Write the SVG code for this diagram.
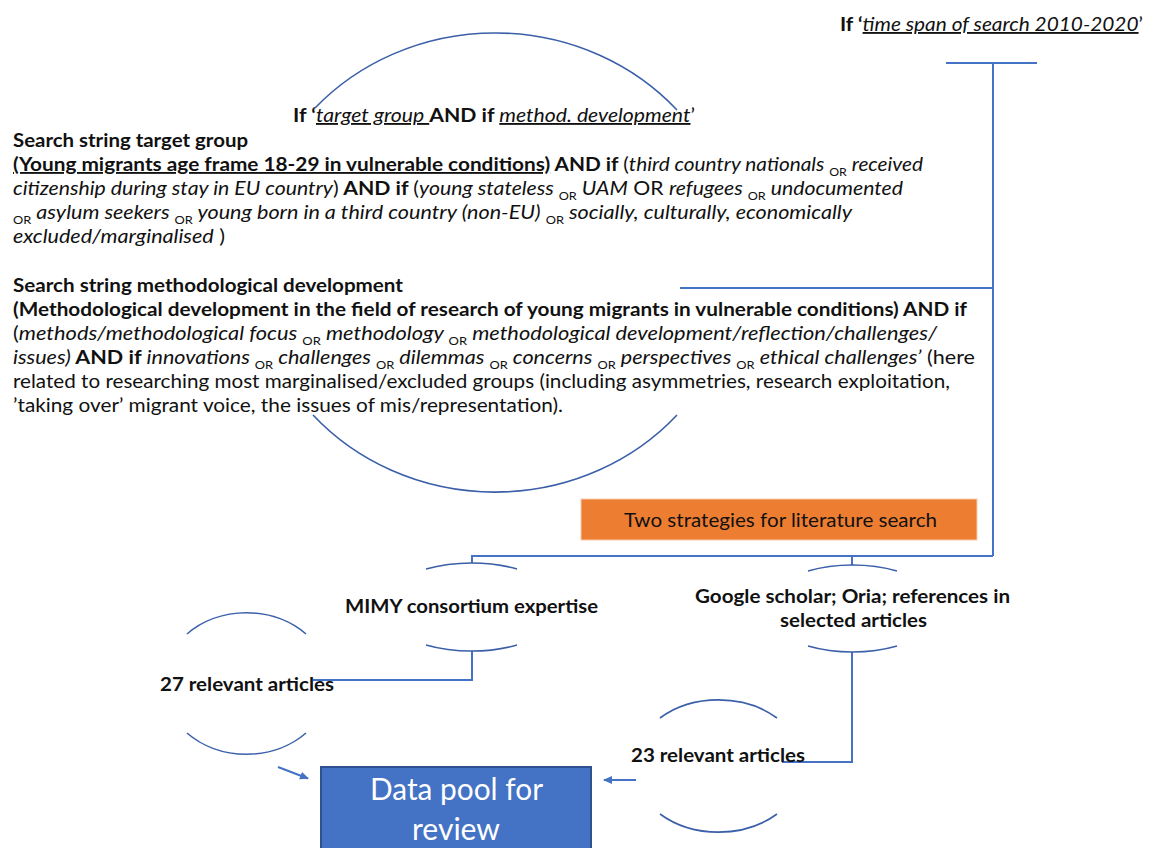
<svg xmlns="http://www.w3.org/2000/svg" width="1153" height="848" viewBox="0 0 1153 848">
<defs>
<style>
.t{font-family:Lato,"Liberation Sans",sans-serif;font-size:18.5px;fill:#111}
.b{font-weight:bold}
.i{font-style:italic}
.u{text-decoration:underline}
.or{font-size:11px;font-style:normal;font-weight:normal}
.ln{stroke:#4472C4;stroke-width:2;fill:none}
.arc{stroke:#3B5FA8;stroke-width:1.6;fill:none}
.w{fill:#fff;font-size:30px}
</style>
<marker id="ah" markerUnits="userSpaceOnUse" markerWidth="9" markerHeight="8" refX="8" refY="4" orient="auto">
<path d="M0,0 L9,4 L0,8 z" fill="#4472C4"/>
</marker>
</defs>
<rect width="1153" height="848" fill="#fff"/>

<g id="connectors">
<path class="ln" d="M946 63 H1037 M993 63 V556"/>
<path class="ln" d="M993 288 H680"/>
<path class="ln" d="M993 556 H472 V563"/>
<path class="ln" d="M852 556 V565"/>
<path class="ln" d="M472 651 V680 H313"/>
<path class="ln" d="M852 652 V762 H782"/>
<path class="ln" d="M278 767 L308 778.5" marker-end="url(#ah)"/>
<path class="ln" d="M636 780 L604 780" marker-end="url(#ah)"/>
</g>

<g id="time-span">
<text class="t" x="840" y="31" textLength="303" lengthAdjust="spacingAndGlyphs"><tspan class="b">If ‘</tspan><tspan class="i u">time span of search 2010-2020</tspan>’</text>
</g>

<g id="search-strings">
<path class="arc" d="M315 108 A243 228.5 0 0 1 677 110"/>
<path class="arc" d="M313 415 A243 228.5 0 0 0 677 415"/>
<text class="t" x="293" y="122" textLength="402" lengthAdjust="spacingAndGlyphs"><tspan class="b">If ‘</tspan><tspan class="i u">target group </tspan><tspan class="b">AND if </tspan><tspan class="i u">method. development</tspan>’</text>
<text class="t b" x="13" y="147" textLength="235" lengthAdjust="spacingAndGlyphs">Search string target group</text>
<text class="t" x="13" y="171" textLength="910" lengthAdjust="spacingAndGlyphs"><tspan class="b u">(Young migrants age frame 18-29 in vulnerable conditions)</tspan><tspan class="b"> AND if </tspan>(<tspan class="i">third country nationals </tspan><tspan class="or" dy="5">OR</tspan><tspan class="i" dy="-5"> received</tspan></text>
<text class="t" x="13" y="195" textLength="890" lengthAdjust="spacingAndGlyphs"><tspan class="i">citizenship during stay in EU country</tspan>)<tspan class="b"> AND if </tspan>(<tspan class="i">young stateless </tspan><tspan class="or" dy="5">OR</tspan><tspan class="i" dy="-5"> UAM</tspan> OR <tspan class="i">refugees </tspan><tspan class="or" dy="5">OR</tspan><tspan class="i" dy="-5"> undocumented</tspan></text>
<text class="t" x="13" y="219" textLength="839" lengthAdjust="spacingAndGlyphs"><tspan class="or" dy="5">OR</tspan><tspan class="i" dy="-5"> asylum seekers </tspan><tspan class="or" dy="5">OR</tspan><tspan class="i" dy="-5"> young born in a third country (non-EU) </tspan><tspan class="or" dy="5">OR</tspan><tspan class="i" dy="-5"> socially, culturally, economically</tspan></text>
<text class="t" x="13" y="243" textLength="212" lengthAdjust="spacingAndGlyphs"><tspan class="i">excluded/marginalised</tspan> )</text>

<text class="t b" x="13" y="292" textLength="390" lengthAdjust="spacingAndGlyphs">Search string methodological development</text>
<text class="t b" x="13" y="316" textLength="954" lengthAdjust="spacingAndGlyphs">(Methodological development in the field of research of young migrants in vulnerable conditions) AND if</text>
<text class="t" x="13" y="340" textLength="924" lengthAdjust="spacingAndGlyphs">(<tspan class="i">methods/methodological focus </tspan><tspan class="or" dy="5">OR</tspan><tspan class="i" dy="-5">  methodology </tspan><tspan class="or" dy="5">OR</tspan><tspan class="i" dy="-5"> methodological development/reflection/challenges/</tspan></text>
<text class="t" x="13" y="364" textLength="962" lengthAdjust="spacingAndGlyphs"><tspan class="i">issues)</tspan><tspan class="b"> AND if </tspan><tspan class="i">innovations </tspan><tspan class="or" dy="5">OR</tspan><tspan class="i" dy="-5"> challenges </tspan><tspan class="or" dy="5">OR</tspan><tspan class="i" dy="-5"> dilemmas </tspan><tspan class="or" dy="5">OR</tspan><tspan class="i" dy="-5"> concerns </tspan><tspan class="or" dy="5">OR</tspan><tspan class="i" dy="-5"> perspectives </tspan><tspan class="or" dy="5">OR</tspan><tspan class="i" dy="-5"> ethical challenges’</tspan> (here</text>
<text class="t" x="13" y="388" textLength="937" lengthAdjust="spacingAndGlyphs">related to researching most marginalised/excluded groups (including asymmetries, research exploitation,</text>
<text class="t" x="13" y="412" textLength="550" lengthAdjust="spacingAndGlyphs">’taking over’ migrant voice, the issues of mis/representation).</text>
</g>

<g id="two-strategies">
<rect x="581" y="499" width="396" height="41" fill="#ED7D31" stroke="#F8CBAD" stroke-width="1"/>
<text class="t" x="624" y="527" textLength="313" lengthAdjust="spacingAndGlyphs">Two strategies for literature search</text>
</g>

<g id="mimy">
<path class="arc" d="M426 569 A90 44 0 0 1 517 569"/>
<path class="arc" d="M426 645 A90 44 0 0 0 517 645"/>
<text class="t b" x="345" y="613" textLength="253" lengthAdjust="spacingAndGlyphs">MIMY consortium expertise</text>
</g>

<g id="google">
<path class="arc" d="M808 571 A88 43.5 0 0 1 897 571"/>
<path class="arc" d="M808 646 A88 43.5 0 0 0 897 646"/>
<text class="t b" x="695" y="603" textLength="315" lengthAdjust="spacingAndGlyphs">Google scholar; Oria; references in</text>
<text class="t b" x="780" y="627" textLength="147" lengthAdjust="spacingAndGlyphs">selected articles</text>
</g>

<g id="articles-27">
<path class="arc" d="M187 634 A83 70 0 0 1 306 634"/>
<path class="arc" d="M187 733 A83 70 0 0 0 306 733"/>
<text class="t b" x="160" y="691" textLength="174" lengthAdjust="spacingAndGlyphs">27 relevant articles</text>
</g>

<g id="articles-23">
<path class="arc" d="M660 718 A85 66 0 0 1 777 718"/>
<path class="arc" d="M660 814 A85 66 0 0 0 777 814"/>
<text class="t b" x="631" y="762" textLength="174" lengthAdjust="spacingAndGlyphs">23 relevant articles</text>
</g>

<g id="data-pool">
<rect x="321" y="767" width="270" height="95" fill="#4472C4" stroke="#2F528F" stroke-width="2"/>
<text class="t w" x="370" y="800" textLength="173" lengthAdjust="spacingAndGlyphs">Data pool for</text>
<text class="t w" x="412" y="840" textLength="88" lengthAdjust="spacingAndGlyphs">review</text>
</g>
</svg>
